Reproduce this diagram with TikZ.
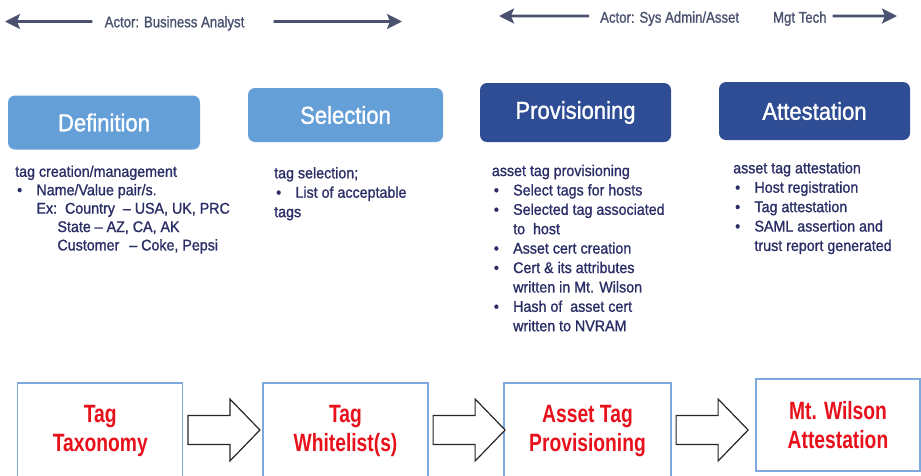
\documentclass[tikz,border=0pt]{standalone}
\usepackage{fontspec}
\setmainfont{Liberation Sans}
\newfontfamily\actorfont{Liberation Sans}[Ligatures=TeX, FakeStretch=0.85, FakeBold=1.2]
\newfontfamily\descfont{Liberation Sans}[Ligatures=TeX, FakeStretch=0.92, FakeBold=1.2]
\newfontfamily\titlefont{Liberation Sans}[Ligatures=TeX, FakeStretch=0.9, FakeBold=1.2]
\newfontfamily\taxfont{Liberation Sans}[Ligatures=TeX, FakeStretch=0.77]
\usepackage{tikz}
\usetikzlibrary{arrows.meta, positioning, calc}
\definecolor{actorgray}{HTML}{4A5270}
\definecolor{lightblue}{HTML}{659FD7}
\definecolor{darkblue}{HTML}{2E4D94}
\definecolor{navytext}{HTML}{2B2E66}
\definecolor{tagred}{HTML}{E8101A}
\definecolor{boxline}{HTML}{7EA9DC}
\newcommand{\bul}{\makebox[21.3pt][l]{\hspace*{2pt}\textbullet}}
\newcommand{\hangin}{\hspace*{21.3pt}}

\begin{document}
\begin{tikzpicture}[
  x=1pt, y=-1pt,
  every node/.style={inner sep=0pt},
  actor/.style={font=\actorfont\fontsize{15.5}{18}\selectfont, text=actorgray},
  actorarrow/.style={-{Stealth[length=15pt, width=15pt, inset=3pt]}, line width=2.6pt, draw=actorgray},
  stage/.style={rounded corners=7pt, text=white, font=\titlefont\fontsize{24.5}{28}\selectfont},
  light/.style={stage, fill=lightblue},
  dark/.style={stage, fill=darkblue},
  desc/.style={anchor=north west, align=left, text=navytext,
               font=\descfont\fontsize{15.5}{19.4}\selectfont},
  tagbox/.style={draw=boxline, line width=1.2pt, fill=white, align=center, text=tagred,
                 font=\taxfont\bfseries\fontsize{25}{29.5}\selectfont},
  blockarrow/.style={draw=black!85, line width=1.2pt, fill=white, line join=miter},
]
\useasboundingbox (0,0) rectangle (921,475);
\clip (0,0) rectangle (921,475);

% Actors
\node[actor, anchor=base] (ba) at (174.5,27.3) {Actor: Business Analyst};
\coordinate (baL) at (5,21.5);
\coordinate (baR) at (402,21.5);
\draw[actorarrow] ([xshift=-12pt, yshift=1.8pt]ba.west) -- (baL);
\draw[actorarrow] ([xshift=29pt, yshift=1.8pt]ba.east) -- (baR);

\node[actor, anchor=base west] (sa) at (600,22.7) {Actor: Sys Admin/Asset\hspace{34pt}Mgt Tech};
\coordinate (saL) at (499,16);
\coordinate (saR) at (897,16);
\draw[actorarrow] ([xshift=-11pt, yshift=2.7pt]sa.west) -- (saL);
\draw[actorarrow] ([xshift=6pt, yshift=2.7pt]sa.east) -- (saR);

% Stages
\node[light, minimum width=192pt, minimum height=54pt] (def)    at (104,122.5)  {Definition};
\node[light, minimum width=195pt, minimum height=54pt] (sel)    at (345.5,115)  {Selection};
\node[dark,  minimum width=191pt, minimum height=59pt] (provis) at (575.5,112.5) {Provisioning};
\node[dark,  minimum width=191pt, minimum height=58pt] (attest) at (814.5,111)  {Attestation};

% Descriptions
\node[desc, font=\descfont\fontsize{15.5}{18.4}\selectfont] (defdesc) at (15,165.4)
  {tag creation/management\\
   \bul Name/Value pair/s.\\
   \hangin Ex:\ \ Country\ \ -- USA, UK, PRC\\
   \hspace*{42.3pt}State -- AZ, CA, AK\\
   \hspace*{42.3pt}Customer\hspace{10pt}-- Coke, Pepsi};
\node[desc] (seldesc) at (274,166.9)
  {tag selection;\\
   \bul List of acceptable\\
   tags};
\node[desc] (provdesc) at (491.7,164.6)
  {asset tag provisioning\\
   \bul Select tags for hosts\\
   \bul Selected tag associated\\
   \hangin to\ \ host\\
   \bul Asset cert creation\\
   \bul Cert \& its attributes\\
   \hangin written in Mt. Wilson\\
   \bul Hash of\ \ asset cert\\
   \hangin written to NVRAM};
\node[desc] (attdesc) at (733,161.9)
  {asset tag attestation\\
   \bul Host registration\\
   \bul Tag attestation\\
   \bul SAML assertion and\\
   \hangin trust report generated};

% Bottom row
\node[tagbox, minimum width=165pt, minimum height=96pt] (tax)    at (100.3,431) {Tag\\Taxonomy};
\node[tagbox, minimum width=165pt, minimum height=96pt] (wlist)  at (345.5,431) {Tag\\Whitelist(s)};
\node[tagbox, minimum width=167pt, minimum height=96pt] (atprov) at (587.5,431) {Asset Tag\\Provisioning};
\node[tagbox, minimum width=164pt, minimum height=92pt] (mtw)    at (838,425)   {Mt. Wilson\\Attestation};

% Block arrows
\foreach \src in {tax, wlist, atprov}
  \draw[blockarrow] ([xshift=4.5pt, yshift=15.5pt]\src.east) -- ++(42,0) -- ++(0,-16.5)
    -- ++(30,31) -- ++(-30,31) -- ++(0,-16.5) -- ++(-42,0) -- cycle;

\end{tikzpicture}
\end{document}
